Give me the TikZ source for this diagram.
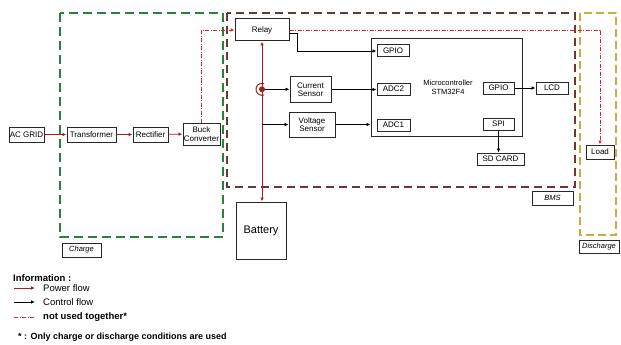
\documentclass[tikz,border=0pt]{standalone}
\usepackage{fontspec}
\setmainfont{Liberation Sans}
\usetikzlibrary{arrows.meta}
\definecolor{powred}{RGB}{165,30,35}
\definecolor{ddred}{RGB}{205,45,50}
\definecolor{chgreen}{RGB}{40,130,60}
\definecolor{bmsred}{RGB}{110,55,55}
\definecolor{disorange}{RGB}{215,165,65}
\definecolor{boxgray}{RGB}{40,40,40}
\tikzset{
  box/.style={draw=boxgray, line width=1pt, inner sep=0pt, align=center, font=\fontsize{8}{8.5}\selectfont},
  tagbox/.style={box, font=\fontsize{7.5}{8}\selectfont\itshape},
  power/.style={draw=powred, line width=0.8pt, -{Latex[length=4pt,width=3.5pt]}},
  powboth/.style={draw=powred, line width=0.8pt, {Latex[length=4pt,width=3.5pt]}-{Latex[length=4pt,width=3.5pt]}},
  ctrl/.style={draw=black, line width=0.75pt, -{Latex[length=4pt,width=3.5pt]}},
  dd/.style={draw=ddred, line width=0.75pt, dash pattern=on 4pt off 1.5pt on 1pt off 1.5pt, -{Latex[length=4pt,width=3.5pt]}},
  chgbox/.style={draw=chgreen, line width=1.3pt, dash pattern=on 9pt off 5pt},
  bmsbox/.style={draw=bmsred, line width=1.3pt, dash pattern=on 8pt off 5pt},
  disbox/.style={draw=disorange, line width=1.3pt, dash pattern=on 8pt off 4pt},
  legtext/.style={anchor=west, inner sep=0pt, font=\fontsize{9.5}{10}\selectfont},
}
\begin{document}
\begin{tikzpicture}[x=1pt,y=-1pt]
\useasboundingbox[fill=white] (0,0) rectangle (621,345);
% group boxes
\draw[chgbox] (60,13) rectangle (223,237);
\draw[bmsbox] (227,13) rectangle (575,187);
\draw[disbox] (580,13) rectangle (616,235);
% nodes
\node[box, minimum width=35pt, minimum height=15pt] (acgrid) at (26.5,134.5) {AC GRID};
\node[box, minimum width=49pt, minimum height=15pt] (transformer) at (91.5,134.5) {Transformer};
\node[box, minimum width=35pt, minimum height=15pt] (rectifier) at (150.5,134.5) {Rectifier};
\node[box, minimum width=37pt, minimum height=22pt] (buck) at (201.5,134) {Buck\\Converter};
\node[box, minimum width=54pt, minimum height=22pt] (relay) at (262,30) {Relay};
\node[box, minimum width=41pt, minimum height=25pt] (cursens) at (310.5,89.5) {Current\\Sensor};
\node[box, minimum width=46pt, minimum height=25pt] (volsens) at (312,124.5) {Voltage\\Sensor};
\node[box, minimum width=151pt, minimum height=97pt] (mcu) at (446.5,87.5) {};
\node[inner sep=0pt, align=center, font=\fontsize{7.5}{9}\selectfont] (mcutext) at (448,87.5) {Microcontroller\\STM32F4};
\node[box, minimum width=32pt, minimum height=12pt] (gpio1) at (393,51) {GPIO};
\node[box, minimum width=33pt, minimum height=12pt] (adc2) at (393.5,89) {ADC2};
\node[box, minimum width=33pt, minimum height=12pt] (adc1) at (393.5,125) {ADC1};
\node[box, minimum width=31pt, minimum height=12pt] (gpio2) at (498.5,88) {GPIO};
\node[box, minimum width=31pt, minimum height=12pt] (spi) at (498.5,124) {SPI};
\node[box, minimum width=32pt, minimum height=12pt] (lcd) at (552,88) {LCD};
\node[box, minimum width=47pt, minimum height=12pt] (sdcard) at (500.5,159) {SD CARD};
\node[box, minimum width=28pt, minimum height=14pt] (load) at (600,152) {Load};
\node[box, minimum width=50pt, minimum height=57pt, font=\fontsize{11}{12}\selectfont] (battery) at (261,230.5) {Battery};
% tag boxes
\node[tagbox, minimum width=41pt, minimum height=14pt] (bmstag) at (552.5,198) {BMS};
\node[tagbox, minimum width=39pt, minimum height=14pt] (chgtag) at (81.5,250) {Charge};
\node[tagbox, minimum width=40pt, minimum height=13pt] (distag) at (599,246.5) {Discharge};
% power flow
\draw[power] (acgrid) -- (transformer);
\draw[power] (transformer) -- (rectifier);
\draw[power] (rectifier) -- (buck);
\draw[powboth] (relay.south) -- (relay.south |- battery.north);
% current sensor symbol
\node[circle, fill=powred, inner sep=0pt, minimum size=6pt] (dot) at (relay.south |- 0,89.3) {};
\draw[draw=powred, line width=1pt] (dot.center) ++(70:6) arc (70:290:6);
% dash-dot
\draw[dd] (buck.north) |- (relay.west);
\draw[dd] (relay.east) -| (load.north);
% control flow
\draw[ctrl] ([yshift=-3pt]relay.east) -- ++(8,0) |- (gpio1.west);
\draw[ctrl] (dot) -- (dot -| cursens.west);
\coordinate (vj) at (relay.south |- volsens.west);
\draw[ctrl] (vj) -- (volsens.west);
\draw[ctrl] (cursens.east) -- (cursens.east -| adc2.west);
\draw[ctrl] (volsens.east) -- (volsens.east -| mcu.west);
\draw[ctrl] (gpio2) -- (lcd);
\draw[ctrl] (spi.south) -- (spi.south |- sdcard.north);
% legend
\node[legtext, font=\fontsize{9.5}{10}\selectfont\bfseries] (info) at (13,278.5) {Information :};
\coordinate (l1a) at (14,288); \coordinate (l1b) at (35,288);
\coordinate (l2a) at (14,302); \coordinate (l2b) at (35,302);
\coordinate (l3a) at (14,317); \coordinate (l3b) at (35,317);
\draw[power] (l1a) -- (l1b);
\draw[ctrl] (l2a) -- (l2b);
\draw[dd, -] (l3a) -- (l3b);
\node[legtext] (pf) at (43,288) {Power flow};
\node[legtext] (cf) at (43,302) {Control flow};
\node[legtext, font=\fontsize{9.5}{10}\selectfont\bfseries] (nut) at (43,317) {not used together*};
\node[legtext, font=\fontsize{9}{10}\selectfont\bfseries] (note) at (18,337.5) {* : Only charge or discharge conditions are used};
\end{tikzpicture}
\end{document}
